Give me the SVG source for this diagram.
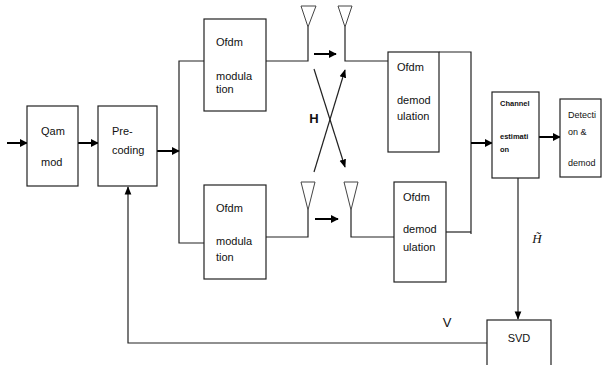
<svg xmlns="http://www.w3.org/2000/svg" width="602" height="365" viewBox="0 0 602 365">
<style>
.box{fill:#fff;stroke:#222;stroke-width:1.2}
.ln{fill:none;stroke:#222;stroke-width:1.2}
.ar{fill:none;stroke:#000;stroke-width:2}
.ant{fill:#fff;stroke:#444;stroke-width:1}
text{font-family:"Liberation Sans",Arial,sans-serif;font-size:11px;fill:#111}
.sm{font-size:7.5px;font-weight:bold}
.dt{font-size:9px}
</style>
<defs>
<marker id="ah" viewBox="0 0 10 10" refX="9" refY="5" markerWidth="4" markerHeight="4" orient="auto"><path d="M0,0 L10,5 L0,10 z" fill="#000"/></marker>
<marker id="ah2" viewBox="0 0 10 10" refX="9" refY="5" markerWidth="7" markerHeight="7" orient="auto"><path d="M0,1 L10,5 L0,9 z" fill="#000"/></marker>
</defs>
<g id="connectors">
<line class="ar" x1="7" y1="143" x2="27" y2="143" marker-end="url(#ah)"/>
<line class="ar" x1="78" y1="143" x2="98" y2="143" marker-end="url(#ah)"/>
<line class="ar" x1="157" y1="151" x2="179" y2="151" marker-end="url(#ah)"/>
<polyline class="ln" points="204,61 179,61 179,243 204,243"/>
<polyline class="ln" points="266,61 308,61 308,27"/>
<polyline class="ln" points="266,237 308,237 308,210"/>
<line class="ar" x1="314" y1="54" x2="336" y2="54" marker-end="url(#ah)"/>
<line class="ar" x1="315" y1="219" x2="338" y2="219" marker-end="url(#ah)"/>
<polyline class="ln" points="345,27 345,61 388,61"/>
<polyline class="ln" points="351,210 351,237 394,237"/>
<line class="ln" x1="314" y1="69" x2="345" y2="167" stroke-width="1.5" marker-end="url(#ah2)"/>
<line class="ln" x1="314" y1="172" x2="345" y2="70" stroke-width="1.5" marker-end="url(#ah2)"/>
<polyline class="ln" points="439,52 471,52 471,234"/>
<line class="ln" x1="446" y1="232" x2="471" y2="232"/>
<line class="ar" x1="471" y1="143" x2="492" y2="143" marker-end="url(#ah)"/>
<line class="ar" x1="539" y1="137" x2="560" y2="137" marker-end="url(#ah)"/>
<line class="ln" x1="518" y1="178" x2="518" y2="319" marker-end="url(#ah2)"/>
<polyline class="ln" points="487,343 128,343 128,187" marker-end="url(#ah2)"/>
</g>
<g id="antennas">
<polygon class="ant" points="301,6 316,6 308,27"/>
<polygon class="ant" points="338,6 352,6 345,27"/>
<polygon class="ant" points="301,182 315,182 308,210"/>
<polygon class="ant" points="344,182 358,182 351,210"/>
</g>
<g id="qam"><rect class="box" x="27" y="106" width="51" height="80"/><text x="41" y="135">Qam</text><text x="41" y="166">mod</text></g>
<g id="precoding"><rect class="box" x="98" y="106" width="59" height="80"/><text x="112" y="135">Pre-</text><text x="112" y="154">coding</text></g>
<g id="ofdm-mod-1"><rect class="box" x="204" y="19" width="62" height="92"/><text x="216" y="46">Ofdm</text><text x="216" y="80">modula</text><text x="216" y="93">tion</text></g>
<g id="ofdm-mod-2"><rect class="box" x="204" y="185" width="62" height="94"/><text x="216" y="212">Ofdm</text><text x="216" y="245">modula</text><text x="216" y="261">tion</text></g>
<g id="ofdm-demod-1"><rect class="box" x="388" y="52" width="51" height="100"/><text x="397" y="71">Ofdm</text><text x="397" y="104">demod</text><text x="397" y="120">ulation</text></g>
<g id="ofdm-demod-2"><rect class="box" x="394" y="182" width="52" height="100"/><text x="403" y="201">Ofdm</text><text x="403" y="233">demod</text><text x="403" y="251">ulation</text></g>
<g id="channel-est"><rect class="box" x="492" y="92" width="47" height="86"/><text class="sm" x="500" y="106">Channel</text><text class="sm" x="500" y="139">estimati</text><text class="sm" x="500" y="152">on</text></g>
<g id="detection"><rect class="box" x="560" y="99" width="41" height="78"/><text class="dt" x="568" y="118">Detecti</text><text class="dt" x="568" y="135">on &amp;</text><text class="dt" x="568" y="166">demod</text></g>
<g id="svd"><rect class="box" x="487" y="320" width="64" height="50"/><text x="519" y="342" text-anchor="middle">SVD</text></g>
<text x="314" y="123" text-anchor="middle" style="font-weight:bold;font-size:13px">H</text>
<text x="537" y="243" text-anchor="middle" style="font-family:'Liberation Serif',serif;font-style:italic;font-size:13px">H̃</text>
<text x="447" y="327" text-anchor="middle" style="font-size:13px">V</text>
</svg>
